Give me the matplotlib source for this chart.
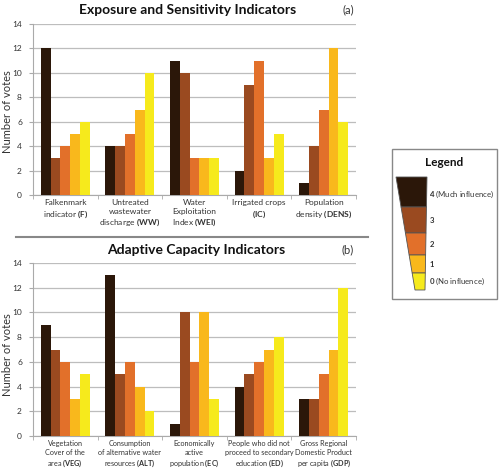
import numpy as np
import matplotlib
matplotlib.use("Agg")
import matplotlib.pyplot as plt
from matplotlib.patches import Polygon, Rectangle
from matplotlib.lines import Line2D

plt.rcParams['font.family'] = ['Lato', 'DejaVu Sans']
plt.rcParams['mathtext.fontset'] = 'custom'
plt.rcParams['mathtext.rm'] = 'Lato'
plt.rcParams['mathtext.bf'] = 'Lato:bold'

# vote levels, 4 = much influence ... 0 = no influence
levels = ['4', '3', '2', '1', '0']
level_notes = [' (Much influence)', '', '', '', ' (No influence)']
colors = ['#2b1709', '#9a4a20', '#e2702a', '#f9b81c', '#f6ea1c']

top_labels = [r"Falkenmark" "\n" r"indicator $\mathbf{(F)}$",
              r"Untreated" "\n" r"wastewater" "\n" r"discharge $\mathbf{(WW)}$",
              r"Water" "\n" r"Exploitation" "\n" r"Index $\mathbf{(WEI)}$",
              r"Irrigated crops" "\n" r"$\mathbf{(IC)}$",
              r"Population" "\n" r"density $\mathbf{(DENS)}$"]
top_votes = [[12, 3, 4, 5, 6],
             [4, 4, 5, 7, 10],
             [11, 10, 3, 3, 3],
             [2, 9, 11, 3, 5],
             [1, 4, 7, 12, 6]]

bot_labels = [r"Vegetation" "\n" r"Cover of the" "\n" r"area $\mathbf{(VEG)}$",
              r"Consumption" "\n" r"of alternative water" "\n" r"resources $\mathbf{(ALT)}$",
              r"Economically" "\n" r"active" "\n" r"population $\mathbf{(EC)}$",
              r"People who did not" "\n" r"proceed to secondary" "\n" r"education $\mathbf{(ED)}$",
              r"Gross Regional" "\n" r"Domestic Product" "\n" r"per capita $\mathbf{(GDP)}$"]
bot_votes = [[9, 7, 6, 3, 5],
             [13, 5, 6, 4, 2],
             [1, 10, 6, 10, 3],
             [4, 5, 6, 7, 8],
             [3, 3, 5, 7, 12]]

W, H = 500, 470
fig = plt.figure(figsize=(W / 100, H / 100), dpi=100)


def fx(px):
    return px / W


def fy(py):
    return 1 - py / H


def draw_panel(ax, labels, votes, label_size):
    votes = np.array(votes)
    n = len(labels)
    width = 0.152
    x = np.arange(n) + 0.5
    for j in range(len(levels)):
        ax.bar(x + (j - 2) * width, votes[:, j], width, color=colors[j],
               zorder=3, linewidth=0)
    ax.set_xlim(0, n)
    ax.set_ylim(0, 14)
    ax.set_yticks(np.arange(0, 15, 2))
    ax.yaxis.grid(True, color='#bdbdbd', linewidth=0.9, zorder=0)
    ax.set_xticks(x)
    ax.set_xticklabels(labels, fontsize=label_size, color='#333333',
                       linespacing=1.25)
    ax.set_xticks(np.arange(n + 1), minor=True)
    ax.tick_params(axis='x', which='major', length=0, pad=3)
    ax.tick_params(axis='x', which='minor', length=3, color='#aaaaaa')
    ax.tick_params(axis='y', length=3, color='#aaaaaa', labelsize=6,
                   labelcolor='#333333', pad=5)
    for s in ['top', 'right']:
        ax.spines[s].set_visible(False)
    ax.spines['left'].set_color('#aaaaaa')
    ax.spines['bottom'].set_color('#aaaaaa')


ax1 = fig.add_axes([fx(33), fy(195), fx(356 - 33), (195 - 24) / H])
draw_panel(ax1, top_labels, top_votes, 6.0)
ax2 = fig.add_axes([fx(33), fy(436), fx(356 - 33), (436 - 263) / H])
draw_panel(ax2, bot_labels, bot_votes, 5.2)

# titles, panel tags and y labels
fig.text(fx(188), fy(10), 'Exposure and Sensitivity Indicators', ha='center',
         va='center', fontsize=10, fontweight='bold', color='#111111')
fig.text(fx(348), fy(10), '(a)', ha='center', va='center', fontsize=8,
         color='#333333')
fig.text(fx(196), fy(250), 'Adaptive Capacity Indicators', ha='center',
         va='center', fontsize=10, fontweight='bold', color='#111111')
fig.text(fx(348), fy(250), '(b)', ha='center', va='center', fontsize=8,
         color='#333333')
fig.text(fx(8), fy(112), 'Number of votes', rotation=90, ha='center',
         va='center', fontsize=8, color='#333333')
fig.text(fx(8), fy(355), 'Number of votes', rotation=90, ha='center',
         va='center', fontsize=8, color='#333333')

# separator between panels
fig.add_artist(Line2D([fx(16), fx(368)], [fy(237), fy(237)],
                      color='#888888', linewidth=1.5))

# legend box with tapered colour wedge
fig.add_artist(Rectangle((fx(392), fy(299)), fx(497 - 392), (299 - 149) / H,
                         facecolor='white', edgecolor='#888888', linewidth=1))
fig.text(fx(444), fy(163), 'Legend', ha='center', va='center',
         fontsize=8.5, fontweight='bold', color='#111111')

bounds = [177, 207, 233, 255, 273, 290]


def left_x(py):
    return 396 + (415 - 396) * (py - 177) / (290 - 177)


def right_x(py):
    return 427 + (425 - 427) * (py - 177) / (290 - 177)


for j in range(len(levels)):
    y0, y1 = bounds[j], bounds[j + 1]
    pts = [(fx(left_x(y0)), fy(y0)), (fx(right_x(y0)), fy(y0)),
           (fx(right_x(y1)), fy(y1)), (fx(left_x(y1)), fy(y1))]
    fig.add_artist(Polygon(pts, closed=True, facecolor=colors[j],
                           edgecolor='#555555', linewidth=0.6))
    ymid = (y0 + y1) / 2
    if j == 0:
        ymid = 194
    fig.text(fx(429), fy(ymid), r'$\mathbf{' + levels[j] + '}$' + level_notes[j],
             ha='left', va='center', fontsize=5.6, color='#333333')

fig.savefig('out.png', dpi=100)
